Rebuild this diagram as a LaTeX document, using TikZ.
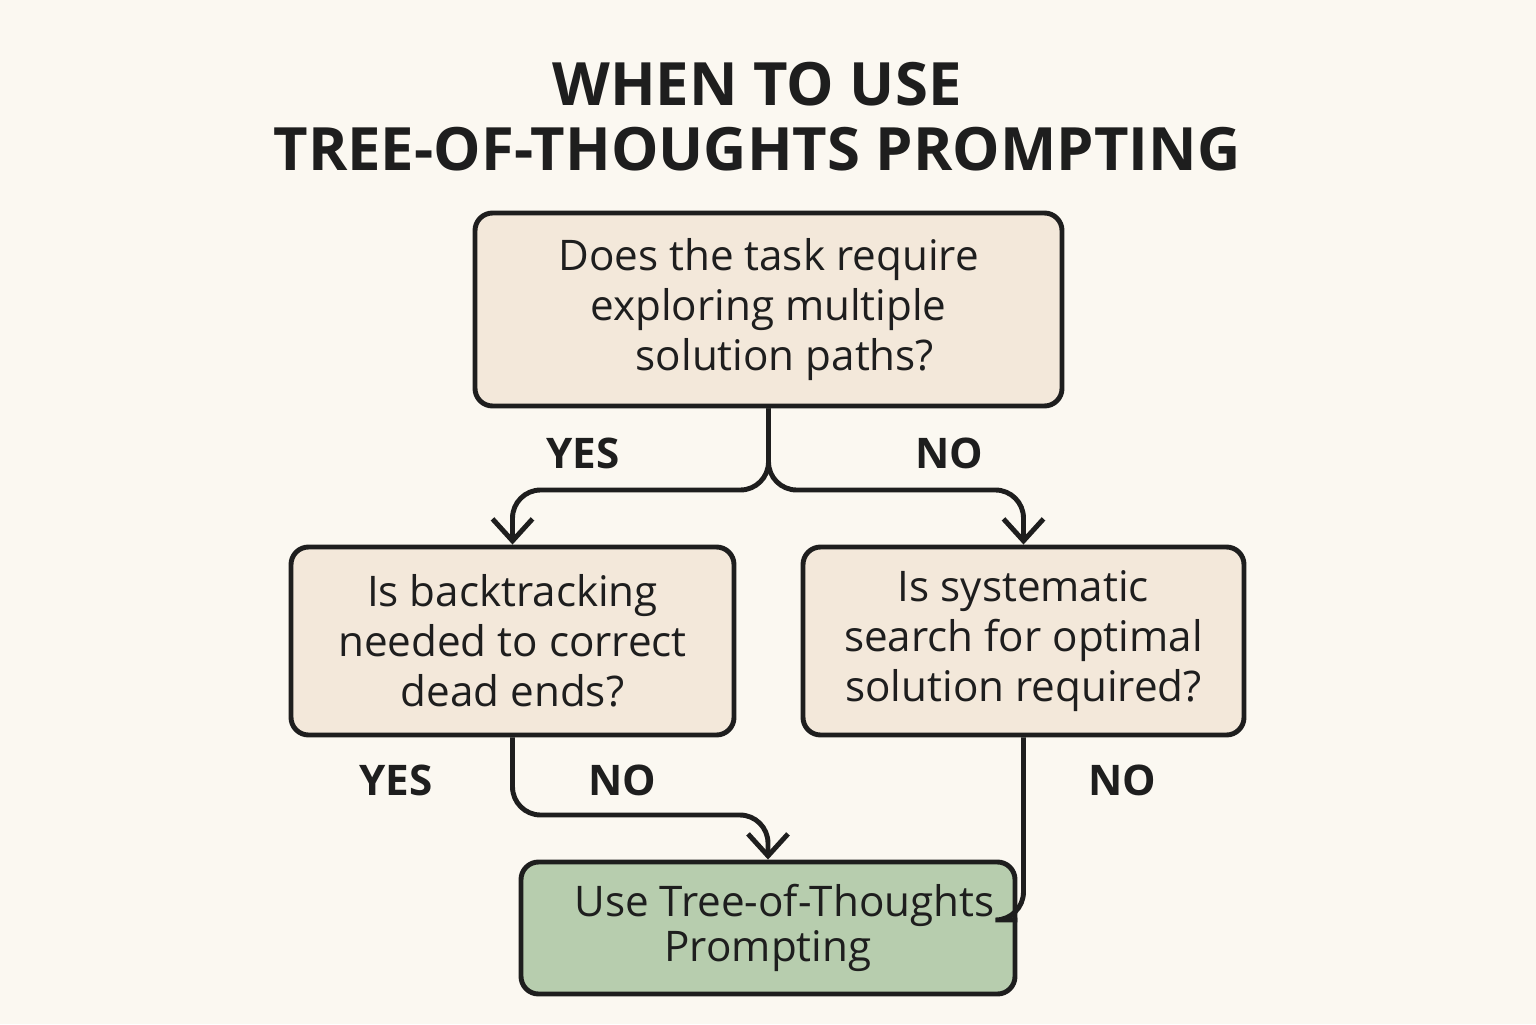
\documentclass[tikz,border=0pt]{standalone}
\usepackage{fontspec}
\setmainfont{Open Sans}
\usetikzlibrary{positioning,arrows.meta}
\definecolor{bgcream}{HTML}{FBF8F1}
\definecolor{boxtan}{HTML}{F3E8DA}
\definecolor{boxgreen}{HTML}{B7CDAE}
\definecolor{ink}{HTML}{1E1E1E}
\tikzset{
  qbox/.style={draw=ink, line width=1.4pt, rounded corners=5pt, fill=boxtan, align=center,
    font=\fontsize{12}{14.2}\selectfont, text=ink, inner sep=0pt},
  endbox/.style={qbox, fill=boxgreen, font=\fontsize{12}{13}\selectfont},
  ans/.style={font=\fontsize{12}{14}\selectfont\bfseries, text=ink},
  link/.style={draw=ink, line width=1.4pt, rounded corners=8pt, -{Straight Barb[length=2.2mm,width=4mm]}}
}
\begin{document}
\begin{tikzpicture}
  \fill[bgcream] (0,0) rectangle (15.36,10.24);
  \useasboundingbox (0,0) rectangle (15.36,10.24);
  % title
  \node[font=\fontsize{17}{18.5}\selectfont\bfseries, text=ink, align=center] (title) at (7.57,9.07)
    {WHEN TO USE\\TREE-OF-THOUGHTS PROMPTING};
  % questions
  \node[qbox, minimum width=5.87cm, minimum height=1.93cm] (task) at (7.685,7.145)
    {Does the task require\\exploring multiple\\ \ \ \ solution paths?};
  \node[qbox, minimum width=4.43cm, minimum height=1.88cm] (back) at (5.125,3.83)
    {Is backtracking\\needed to correct\\dead ends?};
  \node[qbox, minimum width=4.41cm, minimum height=1.88cm] (search) at (10.235,3.83)
    {Is systematic\\search for optimal\\solution required?};
  \node[endbox, minimum width=4.94cm, minimum height=1.32cm] (tot) at (7.68,0.96)
    {\ \ \ Use Tree-of-Thoughts\\Prompting};
  % connectors
  \coordinate (split) at (7.685,5.34);
  \draw[link] (task.south) -- (split) -| (back.north);
  \draw[link] (task.south) -- (split) -| (search.north);
  \draw[link] (back.south) |- (7.68,2.09) -- (tot.north);
  \draw[draw=ink, line width=1.4pt, rounded corners=8pt] (search.south) |- (tot.east |- 0,1.04);
  % answers
  \node[ans] (a1) at (5.83,5.71) {YES};
  \node[ans] (a2) at (9.49,5.71) {NO};
  \node[ans] (a3) at (3.96,2.44) {YES};
  \node[ans] (a4) at (6.22,2.44) {NO};
  \node[ans] (a5) at (11.22,2.44) {NO};
\end{tikzpicture}
\end{document}
